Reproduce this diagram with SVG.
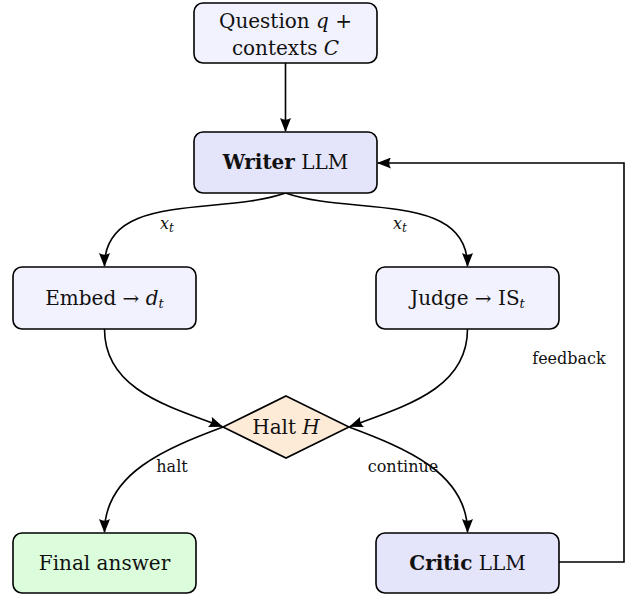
<svg xmlns="http://www.w3.org/2000/svg" width="636" height="595" viewBox="0 0 636 595">
  <defs>
    <style>
      .box { stroke: #000; stroke-width: 1.6; }
      .lite { fill: #f2f2fe; }
      .mid { fill: #e4e4fa; }
      .green { fill: #dbfddb; }
      .halt { fill: #fdebd8; }
      .t { font-family: "DejaVu Serif", "Liberation Serif", serif; font-size: 20px; fill: #111; text-anchor: middle; }
      .lbl { font-family: "DejaVu Serif", "Liberation Serif", serif; font-size: 16px; fill: #111; text-anchor: middle; }
      .edge { fill: none; stroke: #000; stroke-width: 1.6; marker-end: url(#arr); }
    </style>
    <marker id="arr" viewBox="0 0 14 11" refX="13" refY="5.5" markerWidth="14" markerHeight="11" markerUnits="userSpaceOnUse" orient="auto">
      <path d="M0,0 Q3.5,5.5 0,11 L14,5.5 Z" fill="#000"/>
    </marker>
  </defs>

  <g id="connectors">
    <path class="edge" d="M285.5,63 L285.5,131"/>
    <path class="edge" d="M285.5,193 C220,216 104.5,191 104.5,266"/>
    <path class="edge" d="M285.5,193 C351,216 467.5,191 467.5,266"/>
    <path class="edge" d="M104.5,329 C104.5,389 167,406 222,426.5"/>
    <path class="edge" d="M467.5,329 C467.5,389 405,406 350,426.5"/>
    <path class="edge" d="M223,427 C167,448 104.5,473 104.5,532"/>
    <path class="edge" d="M349,427 C405,448 467.5,473 467.5,532"/>
    <path class="edge" d="M559,562 L624,562 L624,163 L378,163"/>
    <text class="lbl" x="167" y="229" font-style="italic">x<tspan font-size="12" dy="3">t</tspan></text>
    <text class="lbl" x="400" y="229" font-style="italic">x<tspan font-size="12" dy="3">t</tspan></text>
    <text class="lbl" x="569" y="364">feedback</text>
    <text class="lbl" x="172" y="472">halt</text>
    <text class="lbl" x="403" y="472">continue</text>
  </g>

  <g id="question">
    <rect class="box lite" x="194" y="3" width="183" height="60" rx="9"/>
    <text class="t" x="285.5" y="28">Question <tspan font-style="italic">q</tspan> +</text>
    <text class="t" x="285.5" y="55">contexts <tspan font-style="italic">C</tspan></text>
  </g>

  <g id="writer">
    <rect class="box mid" x="194" y="132" width="183" height="61" rx="9"/>
    <text class="t" x="285.5" y="169"><tspan font-weight="bold">Writer</tspan> LLM</text>
  </g>

  <g id="embed">
    <rect class="box lite" x="13" y="267" width="183" height="62" rx="9"/>
    <text class="t" x="104.5" y="305">Embed → <tspan font-style="italic">d</tspan><tspan font-style="italic" font-size="13" dy="3">t</tspan></text>
  </g>

  <g id="judge">
    <rect class="box lite" x="376" y="267" width="183" height="62" rx="9"/>
    <text class="t" x="467.5" y="305">Judge → IS<tspan font-style="italic" font-size="13" dy="3">t</tspan></text>
  </g>

  <g id="haltnode">
    <polygon class="box halt" points="286,396 349,427 286,458 223,427"/>
    <text class="t" x="286" y="434">Halt <tspan font-style="italic">H</tspan></text>
  </g>

  <g id="final">
    <rect class="box green" x="13" y="533" width="183" height="60" rx="9"/>
    <text class="t" x="104.5" y="570">Final answer</text>
  </g>

  <g id="critic">
    <rect class="box mid" x="376" y="533" width="183" height="60" rx="9"/>
    <text class="t" x="467.5" y="570"><tspan font-weight="bold">Critic</tspan> LLM</text>
  </g>
</svg>
